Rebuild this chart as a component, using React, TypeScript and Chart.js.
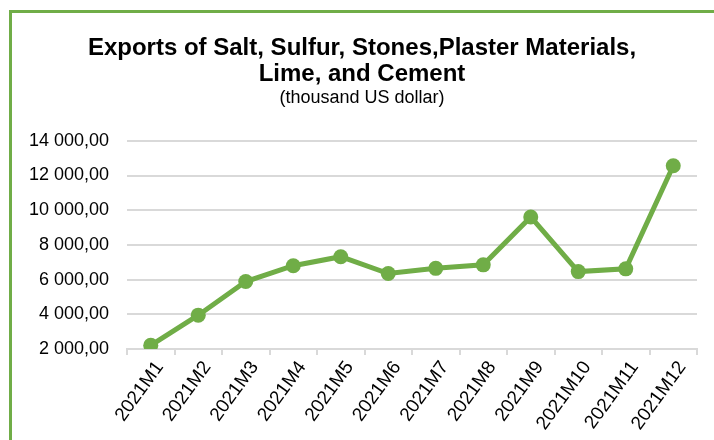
import React, { useEffect, useRef } from "react";
import { Chart, registerables } from "chart.js";

Chart.register(...registerables);

const months = [
  "2021M1", "2021M2", "2021M3", "2021M4", "2021M5", "2021M6",
  "2021M7", "2021M8", "2021M9", "2021M10", "2021M11", "2021M12",
];
const exportsValues = [2210, 3950, 5890, 6800, 7320, 6350, 6650, 6850, 9610, 6460, 6620, 12560];
const titleLines = ["Exports of Salt, Sulfur, Stones,Plaster Materials,", "Lime, and Cement"];
const subtitleText = "(thousand US dollar)";
const yMin = 2000;
const yMax = 14000;
const yStep = 2000;

const GREEN = "#70AD47";
const GRID = "#d9d9d9";
const FONT = "'Liberation Sans', Arial, sans-serif";

function formatValue(v: number): string {
  const n = Math.round(Number(v));
  const th = Math.floor(n / 1000);
  const rest = n % 1000;
  return `${th}\u00a0${String(rest).padStart(3, "0")},00`;
}

export default function App() {
  const ref = useRef<HTMLCanvasElement | null>(null);

  useEffect(() => {
    if (!ref.current) return;
    const chart = new Chart(ref.current, {
      type: "line",
      data: {
        labels: months,
        datasets: [
          {
            data: exportsValues,
            borderColor: GREEN,
            backgroundColor: GREEN,
            borderWidth: 5,
            pointRadius: 7.5,
            pointHoverRadius: 7.5,
            pointBackgroundColor: GREEN,
            pointBorderWidth: 0,
            tension: 0,
            fill: false,
          },
        ],
      },
      options: {
        responsive: false,
        animation: false,
        layout: { padding: { left: 11, right: 17, top: 0, bottom: 0 } },
        plugins: {
          legend: { display: false },
          tooltip: { enabled: false },
          title: {
            display: true,
            text: titleLines,
            color: "#000",
            font: { family: FONT, size: 24, weight: "bold", lineHeight: 1.1 },
            padding: { top: 35, bottom: 0 },
          },
          subtitle: {
            display: true,
            text: subtitleText,
            color: "#000",
            font: { family: FONT, size: 18, lineHeight: 1.0 },
            padding: { top: 1, bottom: 34 },
          },
        },
        scales: {
          x: {
            type: "category",
            offset: true,
            grid: {
              display: true,
              offset: true,
              drawOnChartArea: false,
              drawTicks: true,
              tickLength: 6,
              color: GRID,
              lineWidth: 2,
            },
            border: { display: true, color: GRID, width: 2 },
            ticks: {
              color: "#000",
              font: { family: FONT, size: 19 },
              minRotation: 54,
              maxRotation: 54,
              autoSkip: false,
              padding: 2,
              labelOffset: 9,
            },
            afterFit: (scale: any) => {
              scale.height = 91;
            },
          },
          y: {
            min: yMin,
            max: yMax,
            grid: { color: GRID, lineWidth: 2, drawTicks: false },
            border: { display: false },
            ticks: {
              stepSize: yStep,
              color: "#000",
              padding: 18,
              font: { family: FONT, size: 18 },
              callback: (v: any) => formatValue(v),
            },
            afterFit: (scale: any) => {
              scale.width = 100;
            },
          },
        },
      },
    });
    return () => chart.destroy();
  }, []);

  return (
    <div style={{ position: "fixed", left: 0, top: 0, width: 714, height: 440, overflow: "hidden", background: "#fff" }}>
      <div
        style={{
          position: "absolute",
          left: 9,
          top: 10,
          width: 800,
          height: 600,
          border: `3px solid ${GREEN}`,
          boxSizing: "border-box",
        }}
      />
      <canvas
        ref={ref}
        width={698}
        height={440}
        style={{ position: "absolute", left: 16, top: 0, width: 698, height: 440 }}
      />
    </div>
  );
}
